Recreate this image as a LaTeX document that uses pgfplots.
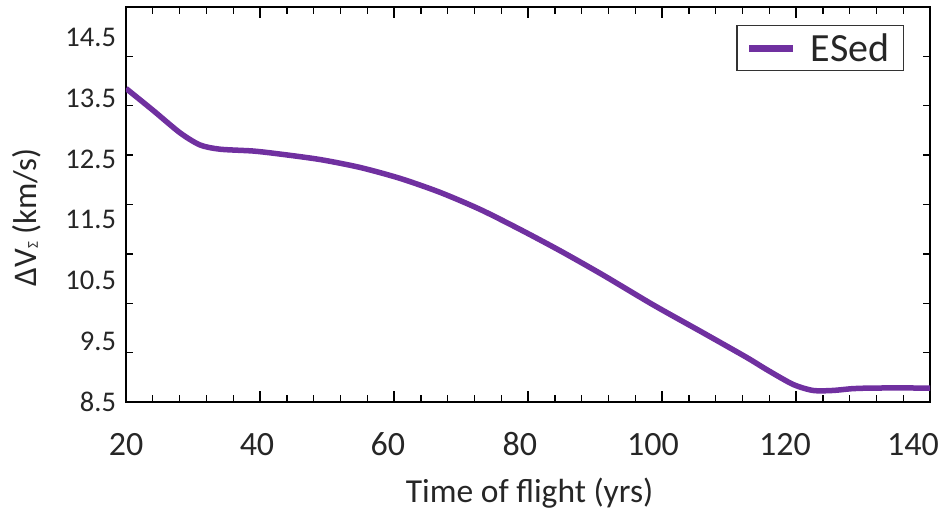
\documentclass[border=0pt]{standalone}
\usepackage{fontspec}
\setmainfont{Carlito}
\usepackage{pgfplots}
\pgfplotsset{compat=1.18}
\definecolor{esed}{HTML}{7030A0}
\definecolor{txt}{HTML}{262626}
\begin{document}
\begin{tikzpicture}
\useasboundingbox (0,0) rectangle (948pt,514pt);
\begin{axis}[
 at={(126pt,112pt)}, anchor=south west,
 scale only axis, width=804pt, height=395pt,
 xmin=20, xmax=140, ymin=8.5, ymax=15,
 xtick={20,40,...,140}, minor x tick num=4,
 xticklabels={},
 extra x ticks={20,39.55,59.1,78.8,98.66,118.36,137.46},
 extra x tick labels={20,40,60,80,100,120,140},
 extra x tick style={major tick length=0pt, tick style={draw=none}},
 ytick={8.5,9.5,10.5,11.5,12.5,13.5,14.5},
 minor ytick={9.3125,10.125,10.9375,11.75,12.5625,13.375,14.1875},
 every major y tick/.append style={draw=none},
 tick align=inside,
 major tick length=11pt, minor tick length=7pt,
 every tick/.append style={line width=1.4pt, black},
 axis line style={line width=2pt},
 /pgf/number format/assume math mode=true,
 yticklabel style={font=\fontsize{28.5}{30}\selectfont, text=txt, xshift=-6.5pt},
 xticklabel style={font=\fontsize{34}{36}\selectfont, text=txt, anchor=base, yshift=-54pt},
 xlabel={Time of flight (yrs)},
 every axis x label/.style={at={(axis description cs:0.502,0)}, anchor=base, yshift=-100pt, font=\fontsize{33.5}{36}\selectfont, text=txt},
 ylabel={ΔV\raisebox{-1pt}{\fontsize{15}{16}\selectfont Σ} (km/s)},
 every axis y label/.style={at={(axis description cs:-0.123,0.468)}, rotate=90, anchor=center, font=\fontsize{33}{35}\selectfont, text=txt},
 legend style={at={(axis description cs:0.9677,0.955)}, anchor=north east, font=\fontsize{40}{42}\selectfont, text=txt, draw=black!80, line width=1.2pt, inner xsep=9pt, inner ysep=4pt, nodes={inner xsep=5pt, inner ysep=4pt}, column sep=9pt},
 legend image code/.code={\draw[#1, line width=7pt] (0pt,0pt) -- (44pt,0pt);},
]
\addplot[color=esed, line width=5.5pt, smooth, tension=0.45] coordinates {
(20,13.66)(24.03,13.30)(28.06,12.93)(31.04,12.73)(34.03,12.66)(38.96,12.63)
(42.99,12.58)(48.96,12.49)(54.93,12.36)(60.90,12.18)(66.87,11.95)(72.84,11.67)
(78.81,11.34)(84.78,10.99)(91.19,10.59)(98.66,10.10)(106.12,9.64)(112.69,9.23)
(115.67,9.03)(119.55,8.79)(122.54,8.69)(125.52,8.69)(128.51,8.72)(132,8.73)(140,8.73)
};
\addlegendentry{ESed\hspace{8pt}}
\end{axis}
\end{tikzpicture}
\end{document}
